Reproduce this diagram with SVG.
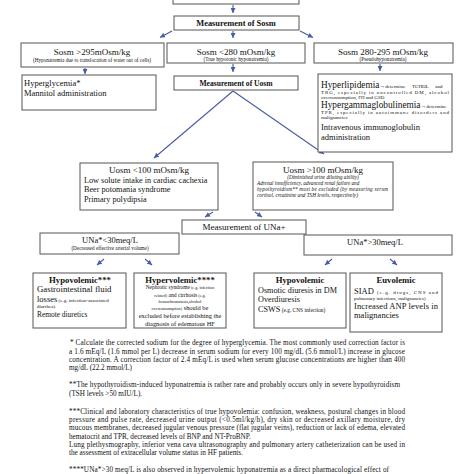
<svg xmlns="http://www.w3.org/2000/svg" width="474" height="474" viewBox="0 0 474 474">
<style>
text{font-family:"Liberation Serif","Times New Roman",serif;fill:#111}
.box{fill:#fff;stroke:#555;stroke-width:1}
.c{text-anchor:middle}
.t9{font-size:9px}
.t85{font-size:8.5px}
.t8{font-size:8.2px}
.b{font-weight:bold}
.s5{font-size:5.2px}
.i{font-style:italic}
.fn{font-size:7.2px}
.ln{stroke:#4a5aa6;stroke-width:1.1;fill:none}
</style>
<defs>
<marker id="ah" markerWidth="5" markerHeight="5" refX="5" refY="2.5" orient="auto" markerUnits="userSpaceOnUse">
<path d="M0,0 L5,2.5 L0,5 z" fill="#4a5aa6"/>
</marker>
</defs>
<rect width="474" height="474" fill="#fff"/>

<g id="connectors">
<line class="ln" x1="233" y1="5" x2="233" y2="13" marker-end="url(#ah)"/>
<line class="ln" x1="172" y1="31" x2="160" y2="37.5" marker-end="url(#ah)"/>
<line class="ln" x1="233" y1="31" x2="233" y2="38" marker-end="url(#ah)"/>
<line class="ln" x1="300" y1="31" x2="313" y2="37.5" marker-end="url(#ah)"/>
<line class="ln" x1="85" y1="68" x2="85" y2="74" marker-end="url(#ah)"/>
<line class="ln" x1="233" y1="64" x2="233" y2="72" marker-end="url(#ah)"/>
<line class="ln" x1="380" y1="64" x2="380" y2="71" marker-end="url(#ah)"/>
<line class="ln" x1="233" y1="91" x2="154" y2="158" marker-end="url(#ah)"/>
<line class="ln" x1="233" y1="91" x2="324" y2="154" marker-end="url(#ah)"/>
<line class="ln" x1="213" y1="212" x2="205" y2="217" marker-end="url(#ah)"/>
<line class="ln" x1="255" y1="212" x2="262" y2="217" marker-end="url(#ah)"/>
<line class="ln" x1="104" y1="259" x2="97" y2="265" marker-end="url(#ah)"/>
<line class="ln" x1="145" y1="259" x2="152" y2="265" marker-end="url(#ah)"/>
<line class="ln" x1="332" y1="259" x2="325" y2="265" marker-end="url(#ah)"/>
<line class="ln" x1="390" y1="259" x2="397" y2="265" marker-end="url(#ah)"/>
</g>

<g id="top">
<rect class="box" x="173" y="-20" width="126" height="24"/>
</g>

<g id="measure-sosm">
<rect class="box" x="174" y="16" width="125" height="14"/>
<text class="c b" x="236" y="26" font-size="8.4">Measurement of Sosm</text>
</g>

<g id="sosm-high">
<rect class="box" x="21" y="43" width="143" height="24"/>
<text class="c t9" x="92" y="55">Sosm &gt;295mOsm/kg</text>
<text class="c s5" x="92" y="62">(Hyponatremia due to translocation of water out of cells)</text>
</g>

<g id="sosm-low">
<rect class="box" x="167" y="43" width="138" height="20"/>
<text class="c t9" x="236" y="55">Sosm &lt;280 mOsm/kg</text>
<text class="c s5" x="236" y="61">(True hypotonic hyponatremia)</text>
</g>

<g id="sosm-mid">
<rect class="box" x="314" y="43" width="139" height="20"/>
<text class="c t9" x="383" y="55">Sosm 280-295 mOsm/kg</text>
<text class="c s5" x="383" y="61">(Pseudohyponatremia)</text>
</g>

<g id="hyperglycemia">
<rect class="box" x="22" y="75" width="134" height="35"/>
<text class="t85" x="24" y="86">Hyperglycemia*</text>
<text class="t85" x="24" y="96">Mannitol administration</text>
</g>

<g id="measure-uosm">
<rect class="box" x="174" y="76" width="124" height="14"/>
<text class="c b" x="236" y="86" font-size="7.6">Measurement of Uosm</text>
</g>

<g id="pseudo-causes">
<rect class="box" x="318" y="74" width="134" height="78"/>
<text x="321" y="88"><tspan font-size="9.3">Hyperlipidemia</tspan><tspan font-size="6">→</tspan><tspan font-size="5" word-spacing="5.5">determine TCHOL and</tspan></text>
<text x="321" y="93.5" font-size="5" textLength="128" lengthAdjust="spacing">TRG, especially in uncontrolled DM, alcohol</text>
<text x="321" y="98.5" font-size="5">overconsumption, FH and GSD</text>
<text x="321" y="108"><tspan font-size="9.3">Hypergammaglobulinemia</tspan><tspan font-size="6">→</tspan><tspan font-size="5">determine</tspan></text>
<text x="321" y="114" font-size="5" textLength="128" lengthAdjust="spacing">TPR, especially in autoimmune disorders and</text>
<text x="321" y="119" font-size="5">malignancies</text>
<text class="t85" x="321" y="130">Intravenous immunoglobulin</text>
<text class="t85" x="321" y="140">administration</text>
</g>

<g id="uosm-low">
<rect class="box" x="80" y="163" width="138" height="47"/>
<text class="c t9" x="149" y="173">Uosm &lt;100 mOsm/kg</text>
<text class="t8" x="84" y="183">Low solute intake in cardiac cachexia</text>
<text class="t8" x="84" y="192">Beer potomania syndrome</text>
<text class="t8" x="84" y="202">Primary polydipsia</text>
</g>

<g id="uosm-high">
<rect class="box" x="253" y="162" width="140" height="48"/>
<text class="c t9" x="323" y="173">Uosm &gt;100 mOsm/kg</text>
<text class="c s5 i" x="323" y="179">(Diminished urine diluting ability)</text>
<text class="s5 i" x="257" y="185">Adrenal insufficiency, advanced renal failure and</text>
<text class="s5 i" x="257" y="191" textLength="131" lengthAdjust="spacing">hypothyroidism** must be excluded (by measuring serum</text>
<text class="s5 i" x="257" y="197">cortisol, creatinine and TSH levels, respectively)</text>
</g>

<g id="measure-una">
<rect class="box" x="182" y="220" width="124" height="14"/>
<text class="c t9" x="244" y="230">Measurement of UNa+</text>
</g>

<g id="una-low">
<rect class="box" x="40" y="233" width="139" height="21"/>
<text class="c t85" x="110" y="243">UNa*&lt;30meq/L</text>
<text class="c s5" x="110" y="250">(Decreased effective arterial volume)</text>
</g>

<g id="una-high">
<rect class="box" x="304" y="235" width="148" height="20"/>
<text class="c t85" x="375" y="245">UNa*&gt;30meq/L</text>
</g>

<g id="hypovolemic-left">
<rect class="box" x="33" y="273" width="93" height="55"/>
<text class="c b" x="80" y="283" font-size="8.7">Hypovolemic***</text>
<text x="37" y="292" font-size="8.8">Gastrointestinal fluid</text>
<text x="37" y="302"><tspan font-size="8.5">losses</tspan><tspan font-size="5"> (e.g. infection-associated</tspan></text>
<text x="37" y="307.5" font-size="5">diarrhea)</text>
<text x="37" y="317" font-size="7.4">Remote diuretics</text>
</g>

<g id="hypervolemic">
<rect class="box" x="134" y="273" width="92" height="55"/>
<text class="c b" x="180" y="283" font-size="8.7">Hypervolemic****</text>
<text class="c" x="180" y="289"><tspan font-size="5.4">Nephrotic syndrome</tspan><tspan font-size="4.2"> (e.g. infection</tspan></text>
<text class="c" x="180" y="297"><tspan font-size="4.2">related)</tspan><tspan font-size="5.6"> and cirrhosis</tspan><tspan font-size="4.2"> (e.g.</tspan></text>
<text class="c" x="180" y="302.5" font-size="4.2">hemochromatosis,alcohol</text>
<text class="c" x="180" y="309.5"><tspan font-size="4.2">overconsumption)</tspan><tspan font-size="6.4"> should be</tspan></text>
<text class="c" x="180" y="317.5" font-size="6.4">excluded before establishing the</text>
<text class="c" x="180" y="325.5" font-size="6.4">diagnosis of edematous HF</text>
</g>

<g id="hypovolemic-right">
<rect class="box" x="254" y="273" width="92" height="55"/>
<text class="c b" x="300" y="283" font-size="8.7">Hypovolemic</text>
<text x="258" y="293" font-size="8.2">Osmotic diuresis in DM</text>
<text x="258" y="302" font-size="8.2">Overdiuresis</text>
<text x="258" y="312"><tspan font-size="8.2">CSWS</tspan><tspan font-size="5.4"> (e.g. CNS infection)</tspan></text>
</g>

<g id="euvolemic">
<rect class="box" x="350" y="273" width="92" height="59"/>
<text x="354" y="294" font-size="8.5">SIAD</text>
<text x="377" y="294" font-size="5" textLength="61" lengthAdjust="spacing">(e.g. drugs, CNS and</text>
<text class="c b" x="396" y="283" font-size="8.7">Euvolemic</text>
<text x="354" y="299.5" font-size="4.9">pulmonary infections, malignancies)</text>
<text x="354" y="309" font-size="8.5" textLength="84" lengthAdjust="spacing">Increased ANP levels in</text>
<text x="354" y="318" font-size="8.5">malignancies</text>
</g>

<g id="footnotes" class="fn">
<text class="fn" x="70" y="345" textLength="335" lengthAdjust="spacing">* Calculate the corrected sodium for the degree of hyperglycemia. The most commonly used correction factor is</text>
<text class="fn" x="69" y="354" textLength="336" lengthAdjust="spacing">a 1.6 mEq/L (1.6 mmol per L) decrease in serum sodium for every 100 mg/dL (5.6 mmol/L) increase in glucose</text>
<text class="fn" x="69" y="362" textLength="336" lengthAdjust="spacing">concentration. A correction factor of 2.4 mEq/L is used when serum glucose concentrations are higher than 400</text>
<text class="fn" x="69" y="370">mg/dL (22.2 mmol/L)</text>
<text class="fn" x="69" y="387" textLength="331" lengthAdjust="spacing">**The hypothyroidism-induced hyponatremia is rather rare and probably occurs only in severe hypothyroidism</text>
<text class="fn" x="69" y="396">(TSH levels &gt;50 mIU/L).</text>
<text class="fn" x="69" y="414" textLength="336" lengthAdjust="spacing">***Clinical and laboratory characteristics of true hypovolemia: confusion, weakness, postural changes in blood</text>
<text class="fn" x="69" y="422" textLength="336" lengthAdjust="spacing">pressure and pulse rate, decreased urine output (&lt;0.5ml/kg/h), dry skin or decreased axillary moisture, dry</text>
<text class="fn" x="69" y="430" textLength="336" lengthAdjust="spacing">mucous membranes, decreased jugular venous pressure (flat jugular veins), reduction or lack of edema, elevated</text>
<text class="fn" x="69" y="439">hematocrit and TPR, decreased levels of BNP and NT-ProBNP.</text>
<text class="fn" x="69" y="447" textLength="336" lengthAdjust="spacing">Lung plethysmography, inferior vena cava ultrasonography and pulmonary artery catheterization can be used in</text>
<text class="fn" x="69" y="455">the assessment of extracellular volume status in HF patients.</text>
<text class="fn" x="69" y="471.5" textLength="320" lengthAdjust="spacing">****UNa*&gt;30 meq/L is also observed in hypervolemic hyponatremia as a direct pharmacological effect of</text>
</g>
</svg>
